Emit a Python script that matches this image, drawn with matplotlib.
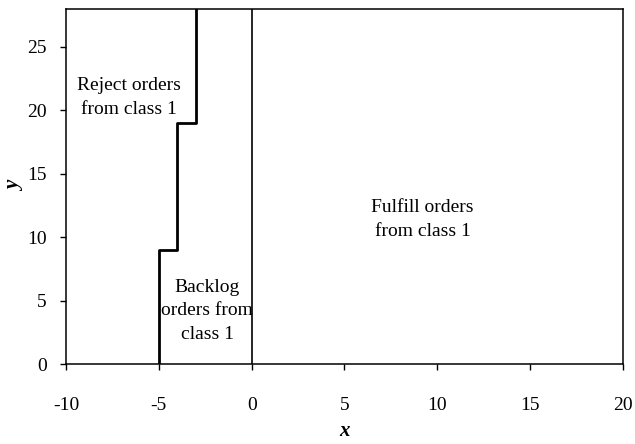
import matplotlib.pyplot as plt

plt.rcParams['font.family'] = ['Liberation Serif', 'DejaVu Serif']
plt.rcParams['axes.unicode_minus'] = False

# Boundary between "reject" and "backlog" regions (step curve)
step_x = [-5, -5, -4, -4, -3, -3]
step_y = [0, 9, 9, 19, 19, 28]

# Boundary between "backlog" and "fulfill" regions
zero_x = [0, 0]
zero_y = [0, 28]

x_ticks = [-10, -5, 0, 5, 10, 15, 20]
y_ticks = [0, 5, 10, 15, 20, 25]

fig = plt.figure(figsize=(6.35, 4.44), dpi=100)
ax = fig.add_axes([0.104, 0.180, 0.877, 0.800])

ax.plot(step_x, step_y, color='black', lw=2.0)
ax.plot(zero_x, zero_y, color='black', lw=1.2)

ax.set_xlim(-10, 20)
ax.set_ylim(0, 28)
ax.set_xticks(x_ticks)
ax.set_yticks(y_ticks)
ax.tick_params(labelsize=14, direction='out', length=4, width=1)
ax.tick_params(axis='x', pad=20)
ax.tick_params(axis='y', pad=10)
for s in ax.spines.values():
    s.set_linewidth(1.1)

ax.text(-6.6, 21.0, 'Reject orders\nfrom class 1', ha='center', va='center',
        fontsize=14, linespacing=1.5)
ax.text(9.2, 11.4, 'Fulfill orders\nfrom class 1', ha='center', va='center',
        fontsize=14, linespacing=1.5)
ax.text(-2.4, 4.2, 'Backlog\norders from\nclass 1', ha='center', va='center',
        fontsize=14, linespacing=1.5)

ax.set_xlabel('x', fontsize=15, fontweight='bold', style='italic', labelpad=5)
ax.set_ylabel('y', fontsize=15, fontweight='bold', style='italic', labelpad=1)

fig.savefig('out.png', dpi=100)
